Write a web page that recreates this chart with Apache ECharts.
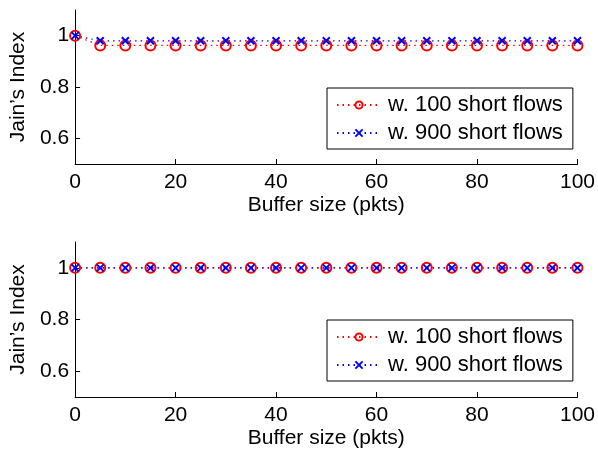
<!DOCTYPE html>
<html>
<head>
<meta charset="utf-8">
<script src="https://cdn.jsdelivr.net/npm/echarts@6/dist/echarts.min.js"></script>
<style>html,body{margin:0;padding:0;background:#fff}#c{width:598px;height:451px}</style>
</head>
<body>
<div id="c"></div>
<script>
const buffer = [0,5,10,15,20,25,30,35,40,45,50,55,60,65,70,75,80,85,90,95,100];
const top100 = [1,0.962,0.962,0.962,0.962,0.962,0.962,0.962,0.962,0.962,0.962,0.962,0.962,0.962,0.962,0.962,0.962,0.962,0.962,0.962,0.962];
const top900 = [1,0.98,0.98,0.98,0.98,0.98,0.98,0.98,0.98,0.98,0.98,0.98,0.98,0.98,0.98,0.98,0.98,0.98,0.98,0.98,0.98];
const bot100 = [1,1,1,1,1,1,1,1,1,1,1,1,1,1,1,1,1,1,1,1,1];
const bot900 = [1,1,1,1,1,1,1,1,1,1,1,1,1,1,1,1,1,1,1,1,1];
const yTicks = [0.6, 0.8, 1];
const names = ['w. 100 short flows', 'w. 900 short flows'];

const FONT = 'Liberation Sans, Arial, Helvetica, sans-serif';
const crossPath = 'path://M0,0L10,10M10,0L0,10';

function xAxis(gi){
  return {
    type:'value', gridIndex:gi, min:0, max:100, interval:20,
    axisLine:{show:true, onZero:false, lineStyle:{color:'#000', width:1}},
    axisTick:{show:true, inside:true, length:5, lineStyle:{color:'#000'}},
    axisLabel:{color:'#000', fontSize:21, fontFamily:FONT, margin:8},
    splitLine:{show:false},
    name:'Buffer size (pkts)', nameLocation:'middle', nameGap:31,
    nameTextStyle:{color:'#000', fontSize:21, fontFamily:FONT}
  };
}
function yAxis(gi){
  return {
    type:'value', gridIndex:gi, min:0.5, max:1.1,
    axisLine:{show:true, onZero:false, lineStyle:{color:'#000', width:1}},
    axisTick:{show:true, inside:true, length:5, lineStyle:{color:'#000'}, customValues:yTicks},
    axisLabel:{color:'#000', fontSize:21, fontFamily:FONT, margin:6, customValues:yTicks,
      formatter:v=> (Math.abs(v-1)<1e-9 ? '1' : v.toFixed(1))},
    splitLine:{show:false},
    name:"Jain\u2019s Index", nameLocation:'middle', nameGap:45, nameRotate:90,
    nameTextStyle:{color:'#000', fontSize:21, fontFamily:FONT}
  };
}
function pairs(ys){ return buffer.map((x,i)=>[x, ys[i]]); }
function redSeries(gi, data){
  return {
    name:names[0], type:'line', xAxisIndex:gi, yAxisIndex:gi, data:pairs(data),
    symbol:'circle', symbolSize:10, showAllSymbol:true,
    lineStyle:{color:'#ff0000', width:1.2, type:[1.5,4]},
    itemStyle:{color:'rgba(0,0,0,0)', borderColor:'#ff0000', borderWidth:2},
    emphasis:{disabled:true}, animation:false
  };
}
function blueSeries(gi, data){
  return {
    name:names[1], type:'line', xAxisIndex:gi, yAxisIndex:gi, data:pairs(data),
    symbol:crossPath, symbolSize:7, showAllSymbol:true,
    lineStyle:{color:'#0000ff', width:1.2, type:[1.5,4]},
    itemStyle:{color:'rgba(0,0,0,0)', borderColor:'#0000ff', borderWidth:2},
    emphasis:{disabled:true}, animation:false
  };
}
function legend(top){
  return {
    show:true, orient:'vertical', left:327, top:top,
    data:[{name:names[0]},{name:names[1]}],
    itemWidth:44, itemHeight:9, itemGap:6,
    padding:[6,10,5,9],
    borderColor:'#000', borderWidth:1, backgroundColor:'#fff',
    textStyle:{color:'#000', fontSize:22, fontFamily:FONT, padding:[0,0,0,2]},
    selectedMode:false
  };
}

const chart = echarts.init(document.getElementById('c'), null, {renderer:'canvas'});
chart.setOption({
  animation:false,
  grid:[
    {left:75, right:18, top:10, height:154},
    {left:75, right:18, top:242, height:155}
  ],
  xAxis:[xAxis(0), xAxis(1)],
  yAxis:[yAxis(0), yAxis(1)],
  legend:[legend(88), legend(320)],
  series:[
    redSeries(0, top100), blueSeries(0, top900),
    redSeries(1, bot100), blueSeries(1, bot900)
  ]
});
</script>
</body>
</html>
